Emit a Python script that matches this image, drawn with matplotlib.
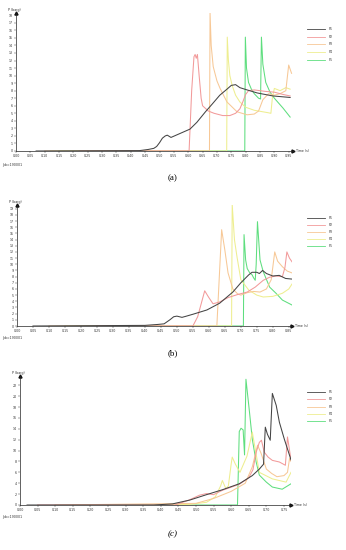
import matplotlib
matplotlib.use("Agg")
import matplotlib.pyplot as plt
from matplotlib.lines import Line2D

# series names and colours
names = ["P1", "P2", "P3", "P4", "P5"]
colors = ["#444444", "#f29a9a", "#f7c896", "#eeee90", "#5ede7e"]

# ---- panel (a) ----
a_p1_t = [0.07, 0.43, 0.46, 0.48, 0.49, 0.50, 0.51, 0.52, 0.527, 0.54, 0.57, 0.606, 0.63, 0.66,
          0.683, 0.71, 0.735, 0.75, 0.765, 0.78, 0.805, 0.84, 0.895, 0.955]
a_p1_v = [0, 0.05, 0.2, 0.35, 0.6, 1.1, 1.7, 2.0, 2.1, 1.8, 2.3, 2.9, 3.8, 5.2,
          6.2, 7.4, 8.2, 8.7, 8.8, 8.4, 8.1, 7.7, 7.3, 7.1]
a_p2_t = [0.22, 0.603, 0.612, 0.62, 0.624, 0.628, 0.632, 0.638, 0.645, 0.65, 0.67, 0.69, 0.70,
          0.72, 0.745, 0.765, 0.78, 0.79, 0.80, 0.81, 0.83, 0.87, 0.90, 0.93, 0.955]
a_p2_v = [0, 0, 8.0, 12.5, 12.8, 12.3, 12.8, 10.0, 7.0, 6.0, 5.3, 5.0, 4.9,
          4.7, 4.7, 5.0, 5.6, 6.5, 7.5, 8.0, 8.1, 7.9, 7.8, 7.5, 7.3]
a_p3_t = [0.10, 0.674, 0.676, 0.68, 0.687, 0.70, 0.711, 0.735, 0.77, 0.805, 0.83, 0.845, 0.86,
          0.88, 0.90, 0.92, 0.94, 0.95, 0.96]
a_p3_v = [0, 0, 18.3, 14.0, 11.2, 9.3, 8.3, 6.5, 5.2, 4.8, 4.9, 5.3, 6.8,
          7.6, 7.4, 7.6, 8.0, 11.4, 10.3]
a_p4_t = [0.12, 0.734, 0.736, 0.74, 0.745, 0.753, 0.765, 0.78, 0.80, 0.83, 0.86, 0.875, 0.888,
          0.893, 0.90, 0.92, 0.94, 0.955]
a_p4_v = [0, 0, 15.1, 12.0, 10.0, 8.7, 7.4, 6.5, 5.8, 5.4, 5.2, 5.1, 5.0,
          7.0, 8.3, 8.0, 8.4, 8.2]
a_p5_t = [0.15, 0.797, 0.799, 0.803, 0.81, 0.82, 0.83, 0.845, 0.852, 0.855, 0.86, 0.87, 0.885,
          0.90, 0.93, 0.955]
a_p5_v = [0, 0, 15.1, 11.0, 9.1, 8.2, 7.6, 7.0, 6.9, 15.1, 11.5, 9.1, 7.8,
          7.0, 5.7, 4.5]

# ---- panel (b) ----
b_p1_t = [0.05, 0.40, 0.44, 0.46, 0.478, 0.49, 0.50, 0.516, 0.53, 0.55, 0.594, 0.634, 0.675,
          0.70, 0.725, 0.735, 0.75, 0.758, 0.768, 0.78, 0.80, 0.82, 0.84, 0.86]
b_p1_v = [0, 0.1, 0.25, 0.35, 1.0, 1.5, 1.6, 1.4, 1.6, 1.9, 2.6, 3.7, 5.5,
          7.0, 8.3, 8.7, 8.7, 8.5, 9.0, 8.5, 8.1, 8.2, 7.7, 7.6]
b_p2_t = [0.25, 0.55, 0.565, 0.587, 0.60, 0.613, 0.634, 0.66, 0.69, 0.72, 0.745, 0.77, 0.79,
          0.81, 0.83, 0.838, 0.844, 0.852, 0.86]
b_p2_v = [0, 0, 1.5, 5.7, 4.6, 3.6, 3.9, 4.6, 5.1, 5.5, 6.3, 7.4, 7.9,
          8.1, 8.0, 9.5, 12.0, 11.0, 10.4]
b_p3_t = [0.10, 0.625, 0.64, 0.65, 0.66, 0.675, 0.69, 0.70, 0.72, 0.74, 0.76, 0.78, 0.795,
          0.806, 0.815, 0.83, 0.845, 0.86]
b_p3_v = [0, 0, 15.6, 12.3, 8.6, 6.0, 5.2, 5.0, 5.4, 5.6, 5.5, 6.0, 7.5,
          12.0, 10.5, 9.6, 8.9, 8.6]
b_p4_t = [0.15, 0.671, 0.673, 0.68, 0.688, 0.70, 0.725, 0.75, 0.77, 0.80, 0.83, 0.85, 0.86]
b_p4_v = [0, 0, 19.7, 14.0, 11.2, 7.5, 5.8, 5.0, 4.7, 4.8, 5.3, 6.0, 6.8]
b_p5_t = [0.30, 0.708, 0.71, 0.715, 0.72, 0.728, 0.735, 0.74, 0.745, 0.748, 0.752, 0.76, 0.77,
          0.79, 0.81, 0.83, 0.86]
b_p5_v = [0, 0, 14.8, 10.7, 9.3, 8.6, 8.3, 7.8, 7.4, 10.0, 16.9, 10.7, 8.8,
          6.3, 5.3, 4.2, 3.4]

# ---- panel (c) ----
c_p1_t = [0.02, 0.38, 0.433, 0.482, 0.53, 0.575, 0.623, 0.66, 0.68, 0.692, 0.697, 0.703, 0.711,
          0.717, 0.728, 0.737, 0.751, 0.77]
c_p1_v = [0, 0, 0.2, 0.9, 1.9, 2.8, 3.9, 5.4, 6.6, 7.5, 14.3, 13.0, 11.9,
          20.5, 18.3, 15.2, 12.1, 8.3]
c_p2_t = [0.05, 0.44, 0.48, 0.51, 0.53, 0.55, 0.575, 0.623, 0.65, 0.662, 0.671, 0.68, 0.686,
          0.694, 0.705, 0.717, 0.737, 0.754, 0.76, 0.77]
c_p2_v = [0, 0, 0.9, 1.8, 2.1, 1.9, 2.7, 3.8, 5.0, 6.5, 9.7, 11.5, 11.9,
          9.7, 8.8, 8.2, 7.9, 7.3, 12.5, 8.3]
c_p3_t = [0.10, 0.50, 0.55, 0.60, 0.64, 0.66, 0.675, 0.685, 0.70, 0.715, 0.73, 0.75, 0.76,
          0.766, 0.77]
c_p3_v = [0, 0.3, 1.2, 2.5, 4.0, 7.0, 11.0, 9.5, 6.6, 5.8, 5.2, 5.4, 6.0,
          8.6, 8.0]
c_p4_t = [0.15, 0.48, 0.53, 0.555, 0.57, 0.575, 0.585, 0.592, 0.60, 0.603, 0.612, 0.625, 0.645,
          0.66, 0.68, 0.717, 0.756, 0.77]
c_p4_v = [0, 0.1, 0.5, 1.5, 3.5, 4.5, 3.0, 3.5, 7.5, 8.8, 7.5, 6.0, 9.0,
          13.4, 6.0, 4.8, 4.2, 6.0]
c_p5_t = [0.25, 0.618, 0.623, 0.628, 0.634, 0.638, 0.642, 0.652, 0.66, 0.671, 0.68, 0.70, 0.717,
          0.745, 0.765, 0.77]
c_p5_v = [0, 0, 13.5, 14.1, 13.8, 9.2, 23.1, 17.1, 12.1, 7.9, 5.5, 4.2, 3.3,
          2.9, 3.7, 3.9]

panels = [
    dict(series=[(a_p1_t, a_p1_v), (a_p2_t, a_p2_v), (a_p3_t, a_p3_v), (a_p4_t, a_p4_v), (a_p5_t, a_p5_v)],
         box=(16, 293, 13, 151), xmax=0.965, ymax=18.3, xt_last=0.95, yt_step=1, yt_last=18,
         leg_y=[29, 37, 44, 52, 60], cap="(a)", cap_y=178, job_y=165, cap_style="normal"),
    dict(series=[(b_p1_t, b_p1_v), (b_p2_t, b_p2_v), (b_p3_t, b_p3_v), (b_p4_t, b_p4_v), (b_p5_t, b_p5_v)],
         box=(17, 292, 205, 326), xmax=0.86, ymax=19.6, xt_last=0.85, yt_step=1, yt_last=19,
         leg_y=[218, 225, 232, 239, 246], cap="(b)", cap_y=353, job_y=338, cap_style="normal"),
    dict(series=[(c_p1_t, c_p1_v), (c_p2_t, c_p2_v), (c_p3_t, c_p3_v), (c_p4_t, c_p4_v), (c_p5_t, c_p5_v)],
         box=(20, 291, 376, 505), xmax=0.77, ymax=23.7, xt_last=0.75, yt_step=2, yt_last=22,
         leg_y=[392, 399, 407, 414, 421], cap="(c)", cap_y=534, job_y=517, cap_style="italic"),
]

W, H = 346, 550
fig = plt.figure(figsize=(W / 100, H / 100), dpi=100)
fs = 2.3

for p in panels:
    x0, x1, yt, yb = p["box"]
    ax = fig.add_axes([x0 / W, 1 - yb / H, (x1 - x0) / W, (yb - yt) / H])
    # draw in reverse so P1 sits on top
    for i in range(4, -1, -1):
        t, v = p["series"][i]
        ax.plot(t, v, color=colors[i], lw=0.75, zorder=3 + (4 - i))
    ax.set_xlim(0, p["xmax"])
    ax.set_ylim(0, p["ymax"])
    nx = int(round(p["xt_last"] / 0.05)) + 1
    xt = [k * 0.05 for k in range(nx)]
    ax.set_xticks(xt)
    ax.set_xticklabels([f"{x:.2f}" for x in xt])
    yt_vals = list(range(0, p["yt_last"] + 1, p["yt_step"]))
    ax.set_yticks(yt_vals)
    ax.set_yticklabels([str(y) for y in yt_vals])
    ax.tick_params(labelsize=fs, length=1.2, width=0.3, pad=1, colors="#333333")
    for s in ["top", "right"]:
        ax.spines[s].set_visible(False)
    for s in ["left", "bottom"]:
        ax.spines[s].set_linewidth(0.5)
        ax.spines[s].set_color("#222222")
    ax.plot([0], [1], marker="^", ms=2.2, color="#111111", transform=ax.transAxes, clip_on=False)
    ax.plot([1], [0], marker=">", ms=2.2, color="#111111", transform=ax.transAxes, clip_on=False)
    ax.text(-0.005, 1.01, "P (barg)", transform=ax.transAxes, fontsize=fs, ha="center", va="bottom",
            color="#333333")
    ax.text(1.012, 0, "Time (s)", transform=ax.transAxes, fontsize=fs, ha="left", va="center",
            color="#333333")

    # legend
    for i, name in enumerate(names):
        ly = 1 - p["leg_y"][i] / H
        fig.add_artist(Line2D([307 / W, 325 / W], [ly, ly], color=colors[i], lw=0.6))
        fig.text(329 / W, ly, name, fontsize=fs, va="center", ha="left", color="#333333")

    fig.text(2 / W, 1 - p["job_y"] / H, "Job=190001", fontsize=fs, va="center", ha="left",
             color="#333333")
    fig.text(173 / W, 1 - p["cap_y"] / H, p["cap"], fontsize=6.5, va="center", ha="center",
             family="Liberation Serif", style=p["cap_style"])

fig.savefig("out.png", dpi=100)
